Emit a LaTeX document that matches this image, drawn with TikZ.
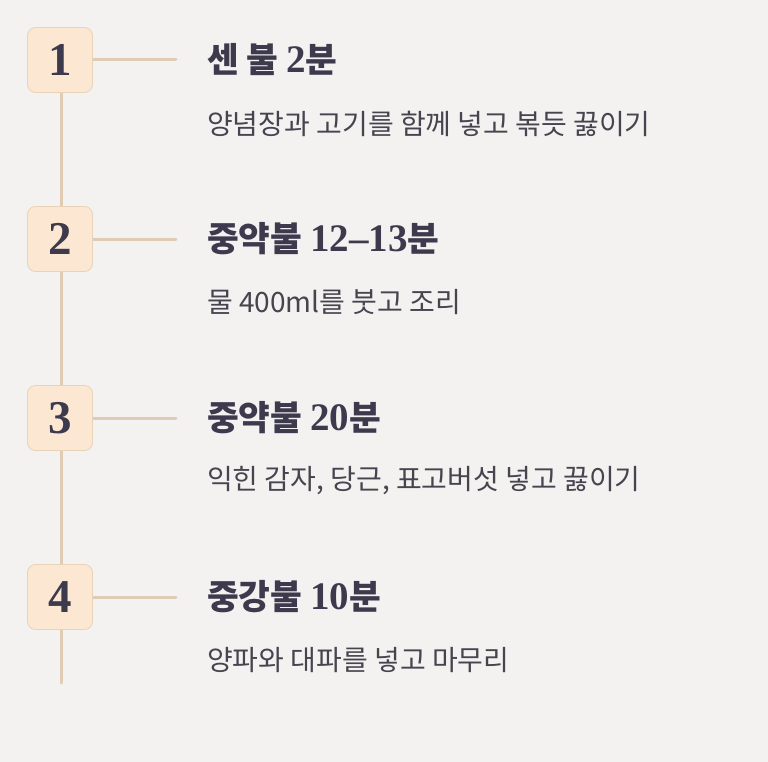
\documentclass[tikz,border=0pt]{standalone}
\usepackage{fontspec}
\setmainfont{Noto Sans CJK KR}
\newfontfamily\krfont{Noto Sans CJK KR}
\newfontfamily\numfont{Liberation Serif}
\definecolor{bg}{HTML}{F4F2F0}
\definecolor{boxfill}{HTML}{FCE8D2}
\definecolor{boxline}{HTML}{E8D3B6}
\definecolor{conn}{HTML}{E0CCB4}
\definecolor{headc}{HTML}{3E3A4E}
\definecolor{bodyc}{HTML}{47434F}
\tikzset{
  stepbox/.style={draw=boxline, line width=0.8pt, fill=boxfill, rounded corners=8pt,
    minimum width=65pt, minimum height=65pt, inner sep=0pt,
    font=\numfont\bfseries\fontsize{47}{47}\selectfont, text=headc},
  conline/.style={draw=conn, line width=3pt, line cap=round},
  headtxt/.style={anchor=west, inner sep=0pt, text=headc, font=\krfont\bfseries\fontsize{34.5}{34.5}\selectfont},
  bodytxt/.style={anchor=west, inner sep=0pt, text=bodyc, font=\krfont\fontsize{28}{28}\selectfont}
}
\newcommand{\nm}[1]{{\numfont\bfseries\fontsize{39}{39}\selectfont #1}}
\begin{document}
\begin{tikzpicture}[x=1pt,y=-1pt]
\fill[bg] (0,0) rectangle (768,762);
\useasboundingbox (0,0) rectangle (768,762);
\coordinate (end) at (61,683);
\coordinate (h1) at (176,60);
\coordinate (h2) at (176,239);
\coordinate (h3) at (176,418);
\coordinate (h4) at (176,597);
\draw[conline] (61,60) -- (end);
\draw[conline] (61,60) -- (h1);
\draw[conline] (61,239) -- (h2);
\draw[conline] (61,418) -- (h3);
\draw[conline] (61,597) -- (h4);
\node[stepbox] (b1) at (60,60) {1};
\node[stepbox] (b2) at (60,239) {2};
\node[stepbox] (b3) at (60,418) {3};
\node[stepbox] (b4) at (60,597) {4};
\node[headtxt] (t1) at (207,60) {센 불 \nm{2}분};
\node[headtxt] (t2) at (207,239) {중약불 \nm{12–13}분};
\node[headtxt] (t3) at (207,418) {중약불 \nm{20}분};
\node[headtxt] (t4) at (207,597) {중강불 \nm{10}분};
\node[bodytxt] (d1) at (207,124) {양념장과 고기를 함께 넣고 볶듯 끓이기};
\node[bodytxt] (d2) at (207,302) {물 400ml를 붓고 조리};
\node[bodytxt] (d3) at (207,481) {익힌 감자, 당근, 표고버섯 넣고 끓이기};
\node[bodytxt] (d4) at (207,660) {양파와 대파를 넣고 마무리};
\end{tikzpicture}
\end{document}
